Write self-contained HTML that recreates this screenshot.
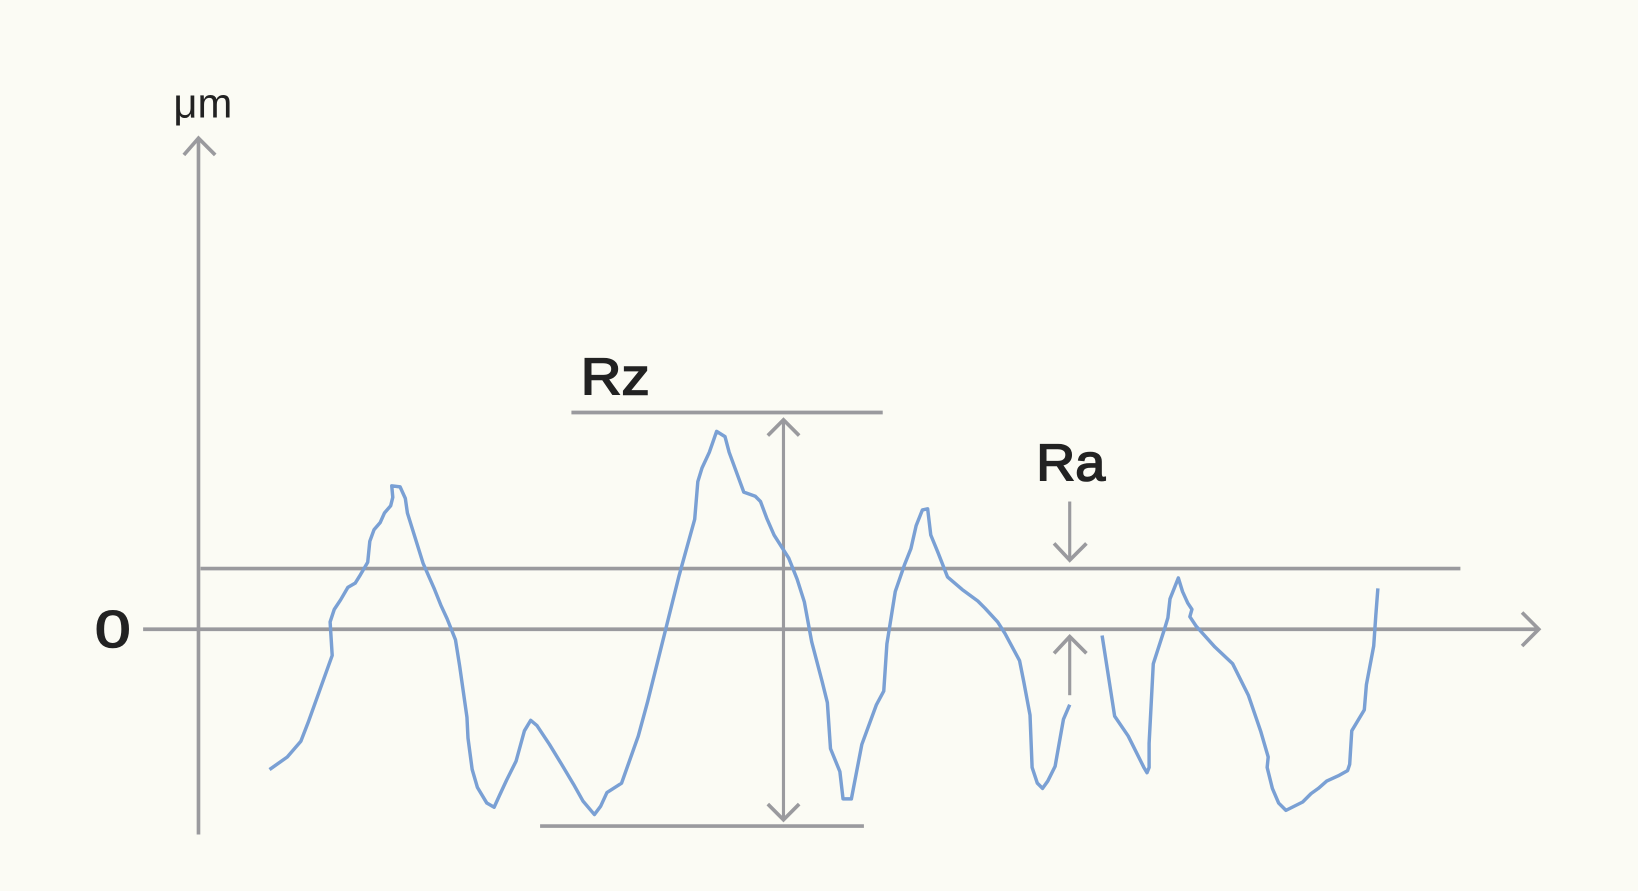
<!DOCTYPE html>
<html><head><meta charset="utf-8"><style>
html,body{margin:0;padding:0;background:#fbfbf4;}
svg{display:block}
</style></head><body>
<svg width="1638" height="891" viewBox="0 0 1568 851" preserveAspectRatio="none" xmlns="http://www.w3.org/2000/svg">
<rect x="0" y="0" width="1568" height="851" fill="#fbfbf4"/>
<g stroke="#9a9a9e" stroke-width="3.5" fill="none">
<line x1="190" y1="132" x2="190" y2="797"/>
<polyline points="176,148 190,132 206,148"/>
<line x1="137" y1="601" x2="1473" y2="601"/>
<polyline points="1457,585 1473,601 1457,617"/>
<line x1="192" y1="543" x2="1398" y2="543"/>
<line x1="547" y1="394" x2="845" y2="394"/>
<line x1="517" y1="789" x2="827" y2="789"/>
<line x1="750" y1="401" x2="750" y2="783" stroke-width="3"/>
<polyline points="735,416 750,401 765,416"/>
<polyline points="735,768 750,783 765,768"/>
<line x1="1024" y1="479" x2="1024" y2="535" stroke-width="3"/>
<polyline points="1009,519 1024,535 1040,519"/>
<line x1="1024" y1="664" x2="1024" y2="608" stroke-width="3"/>
<polyline points="1009,624 1024,608 1040,624"/>
</g>
<g stroke="#7aa0d4" stroke-width="3.3" fill="none" stroke-linejoin="round">
<polyline points="258,735 275,723 288,708 295,690 318,626 316,594 320,582 326,573 333,561 340,557 345,549 352,537 354,517 358,506 364,499 368,490 374,483 376,475 375,464 383,465 388,476 390,490 400,522 405,538 416,563 422,578 428,591 436,611 440,636 447,685 448,705 452,735 457,752 466,767 473,771 478,760 485,745 494,727 502,698 508,688 514,693 526,711 537,729 549,749 558,765 569,778 575,770 581,757 595,748 611,703 620,670 636,606 650,550 665,496 668,460 672,447 679,432 686,412 694,417 698,432 712,470 723,474 728,479 734,495 741,511 755,533 763,553 770,575 777,613 787,651 792,671 795,715 804,737 807,763 815,763 825,711 839,673 846,660 849,615 857,565 866,539 872,524 877,502 883,487 888,486 891,511 898,528 907,551 921,563 936,574 943,581 955,594 962,605 976,631 980,651 986,683 988,733 993,748 998,753 1003,746 1010,732 1018,687 1024,673"/>
<polyline points="1055,607 1067,684 1080,703 1095,733 1098,738 1100,733 1100,710 1104,634 1115,600 1118,590 1120,572 1128,552 1132,565 1137,576 1141,582 1139,589 1145,598 1163,618 1180,634 1195,664 1207,699 1214,723 1213,733 1218,753 1224,767 1231,774 1247,766 1255,758 1262,753 1270,746 1281,741 1290,736 1292,730 1294,698 1306,678 1308,654 1315,617 1317,588 1319,562"/>
</g>
<g fill="#222" font-family="Liberation Sans, DejaVu Sans, sans-serif">
<text x="166" y="112" font-size="40">μm</text>
<text x="556" y="377" font-size="50" stroke="#222" stroke-width="1.5" textLength="66" lengthAdjust="spacingAndGlyphs">Rz</text>
<text x="992" y="459" font-size="50" stroke="#222" stroke-width="1.5" textLength="66" lengthAdjust="spacingAndGlyphs">Ra</text>
<text x="91" y="618" font-size="50" stroke="#222" stroke-width="1.5" textLength="34" lengthAdjust="spacingAndGlyphs">0</text>
</g>
</svg>
</body></html>
